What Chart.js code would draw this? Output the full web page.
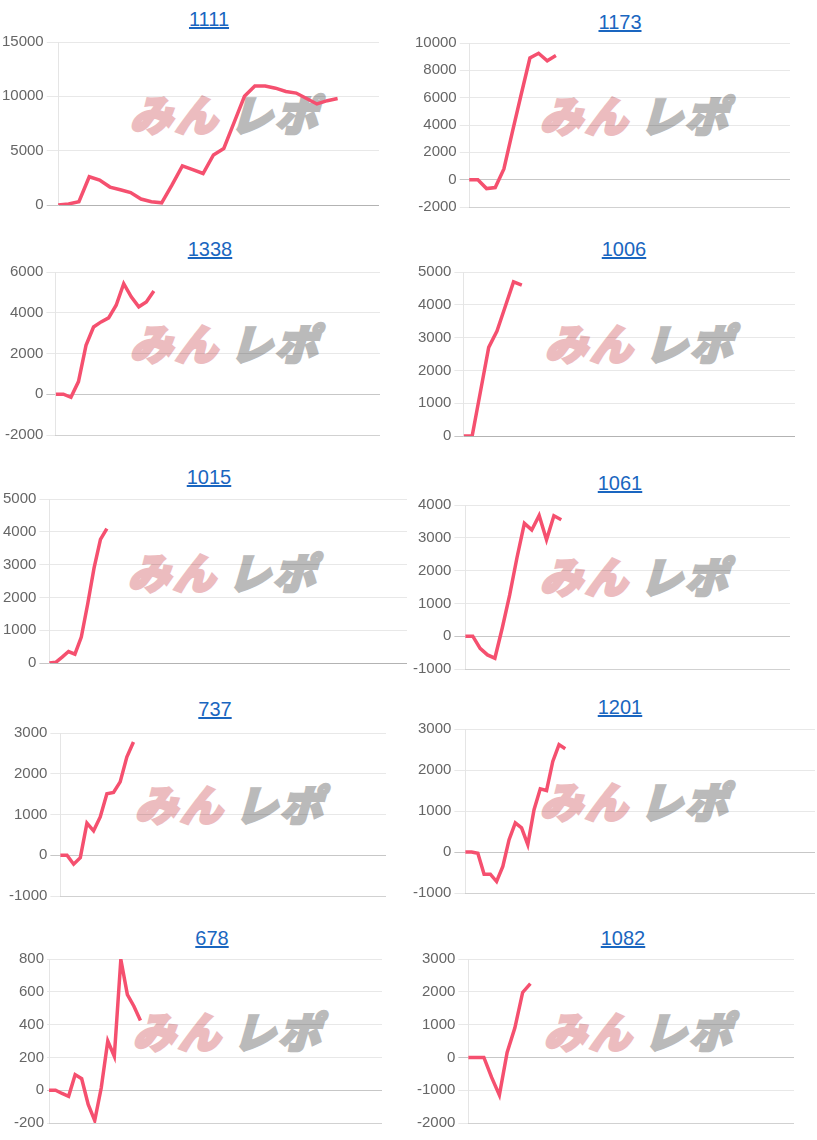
<!DOCTYPE html>
<html><head><meta charset="utf-8">
<script src="https://cdn.jsdelivr.net/npm/chart.js@4.4.0/dist/chart.umd.min.js"></script>
<style>
html,body{margin:0;padding:0;background:#fff;overflow:hidden;width:817px;height:1140px;position:relative;}
a.title{position:absolute;font:20px "Liberation Sans",Arial,sans-serif;color:#1a66c0;text-decoration:underline;white-space:nowrap;transform:translateX(-50%);line-height:22px;}
.wm{position:absolute;transform:translate(-50%,-50%) skewX(-16deg);white-space:nowrap;font-family:"Noto Sans CJK JP",sans-serif;font-weight:900;font-size:42px;line-height:42px;letter-spacing:3px;}
.wm .a{color:#ecbcbf;-webkit-text-stroke:3px #ecbcbf}
.wm .b{color:#bababa;-webkit-text-stroke:3px #bababa;margin-left:10px}
.box{position:absolute}
</style></head><body>
<script>
// ---- data ----
const titles = ['1111','1173','1338','1006','1015','1061','737','1201','678','1082'];
const labelCounts = [32, 38, 44, 41, 57, 45, 50, 57, 52, 43];
const s1111 = [0, 100, 300, 2600, 2300, 1650, 1400, 1150, 550, 300, 200, 1850, 3600, 3250, 2900, 4600, 5200, 7600, 10000, 10950, 10950, 10750, 10450, 10300, 9800, 9300, 9600, 9800];
const s1173 = [0, 0, -650, -580, 780, 3550, 6250, 8900, 9250, 8700, 9080];
const s1338 = [0, 0, -150, 620, 2400, 3300, 3550, 3750, 4370, 5430, 4780, 4290, 4530, 5070];
const s1006 = [0, 0, 1350, 2700, 3200, 3950, 4700, 4600];
const s1015 = [0, 20, 180, 350, 270, 790, 1800, 2900, 3770, 4100];
const s1061 = [0, 0, -370, -570, -670, 250, 1250, 2400, 3440, 3240, 3680, 2940, 3670, 3550];
const s737  = [0, 0, -220, -60, 790, 600, 940, 1510, 1540, 1800, 2410, 2780];
const s1201 = [0, 0, -30, -540, -540, -720, -350, 300, 710, 590, 180, 1030, 1540, 1500, 2210, 2620, 2520];
const s678  = [0, 0, -20, -37, 95, 70, -87, -185, 15, 300, 207, 797, 583, 512, 425];
const s1082 = [0, 0, 0, -610, -1150, 150, 900, 1980, 2250];
const series = [s1111, s1173, s1338, s1006, s1015, s1061, s737, s1201, s678, s1082];
const yMin  = [0, -2000, -2000, 0, 0, -1000, -1000, -1000, -200, -2000];
const yMax  = [15000, 10000, 6000, 5000, 5000, 4000, 3000, 3000, 800, 3000];
const yStep = [5000, 2000, 2000, 1000, 1000, 1000, 1000, 1000, 200, 1000];

// ---- layout (page px) ----
const plots = [
  {L:58, T:42, R:379, B:205, gap:14.5, tx:209, ty:19,  wx:230, wy:113},
  {L:469,T:43, R:790, B:207, gap:12.5, tx:620, ty:22,  wx:640, wy:114},
  {L:56, T:272,R:380, B:435, gap:12.5, tx:210, ty:249, wx:230, wy:342},
  {L:464,T:272,R:795, B:436, gap:12.5, tx:624, ty:249, wx:645, wy:342},
  {L:49, T:499,R:407, B:663, gap:13,   tx:209, ty:477, wx:228, wy:571},
  {L:465,T:505,R:790, B:669, gap:14,   tx:620, ty:483, wx:640, wy:575},
  {L:60, T:733,R:386, B:896, gap:13,   tx:215, ty:709, wx:235, wy:803},
  {L:465,T:729,R:815, B:893, gap:14,   tx:620, ty:707, wx:640, wy:800},
  {L:49, T:959,R:382, B:1123,gap:5,    tx:212, ty:938, wx:233, wy:1030},
  {L:468,T:959,R:794, B:1123,gap:13,   tx:623, ty:938, wx:644, wy:1030}
];

Chart.defaults.font.family = '"Liberation Sans", Arial, sans-serif';
Chart.defaults.font.size = 14;
Chart.defaults.color = '#666';

function config(i){
  const labels = Array.from({length: labelCounts[i]}, (_, k) => String(k + 1));
  const p = plots[i];
  return {
    type: 'line',
    data: { labels, datasets: [{ data: series[i], borderColor: '#f5506f', borderWidth: 3.5, pointRadius: 0, pointHoverRadius: 0, tension: 0, fill: false }] },
    options: {
      responsive: false, animation: false,
      layout: { padding: 0 },
      plugins: { legend: { display: false }, tooltip: { enabled: false } },
      scales: {
        x: { display: true, ticks: { display: false }, grid: { display: false }, border: { display: true, color: 'rgba(0,0,0,0.1)' } },
        y: {
          min: yMin[i], max: yMax[i],
          ticks: { stepSize: yStep[i], padding: 3, color: '#666', font: { size: 15 }, callback: (v) => String(v) },
          grid: { tickLength: Math.max(1, p.gap - 3), color: (c) => (c.tick && c.tick.value === 0) ? 'rgba(0,0,0,0.22)' : 'rgba(0,0,0,0.09)' },
          border: { display: true, color: 'rgba(0,0,0,0.1)' }
        }
      }
    }
  };
}

function build(i){
  const p = plots[i];
  const t = document.createElement('a');
  t.className = 'title'; t.href = '#'; t.textContent = titles[i];
  t.style.left = p.tx + 'px'; t.style.top = (p.ty - 11) + 'px';
  document.body.appendChild(t);
  const w = document.createElement('div');
  w.className = 'wm';
  w.innerHTML = '<span class="a">みん</span><span class="b">レポ</span>';
  w.style.left = p.wx + 'px'; w.style.top = p.wy + 'px';
  document.body.appendChild(w);
  const plotW = p.R - p.L, plotH = p.B - p.T;
  const wrap = document.createElement('div'); wrap.className = 'box';
  document.body.appendChild(wrap);
  const make = (cw, chh) => {
    wrap.innerHTML = '';
    const c = document.createElement('canvas');
    c.width = cw; c.height = chh; c.style.width = cw + 'px'; c.style.height = chh + 'px';
    wrap.appendChild(c);
    return new Chart(c, config(i));
  };
  let ch = make(plotW + 80, plotH + 40);
  const a = ch.chartArea;
  const mL = a.left, mT = a.top, mR = ch.width - a.right, mB = ch.height - a.bottom;
  ch.destroy();
  ch = make(Math.round(plotW + mL + mR), Math.round(plotH + mT + mB));
  const a2 = ch.chartArea;
  wrap.style.left = (p.L - a2.left) + 'px';
  wrap.style.top = (p.T - a2.top) + 'px';
}
for (let i = 0; i < 10; i++) build(i);
</script>
</body></html>
